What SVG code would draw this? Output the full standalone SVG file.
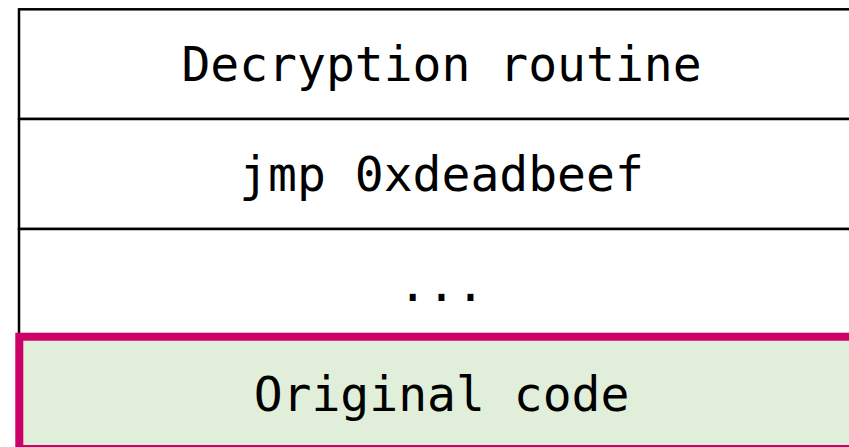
<svg xmlns="http://www.w3.org/2000/svg" width="849" height="447" viewBox="0 0 849 447">
  <style>
    .cell { fill: #ffffff; stroke: #000000; stroke-width: 2.5; }
    .hl { fill: #e1eed9; stroke: #cc0066; stroke-width: 8; }
    .lbl { font-family: "DejaVu Sans Mono", monospace; font-size: 48px; fill: #000000; text-anchor: middle; }
  </style>
  <rect x="0" y="0" width="849" height="447" fill="#ffffff"/>
  <g id="decryption-routine">
    <rect class="cell" x="19" y="9.3" width="860" height="109.7"/>
    <text class="lbl" x="441.5" y="80.6">Decryption routine</text>
  </g>
  <g id="jmp">
    <rect class="cell" x="19" y="119" width="860" height="110"/>
    <text class="lbl" x="441.5" y="190.6">jmp 0xdeadbeef</text>
  </g>
  <g id="ellipsis">
    <rect class="cell" x="19" y="229" width="860" height="110"/>
    <text class="lbl" x="441.5" y="300.6">...</text>
  </g>
  <g id="original-code">
    <rect class="hl" x="19.3" y="336.7" width="860" height="112.3"/>
    <text class="lbl" x="441.5" y="410.6">Original code</text>
  </g>
  <g id="connectors"/>
</svg>
